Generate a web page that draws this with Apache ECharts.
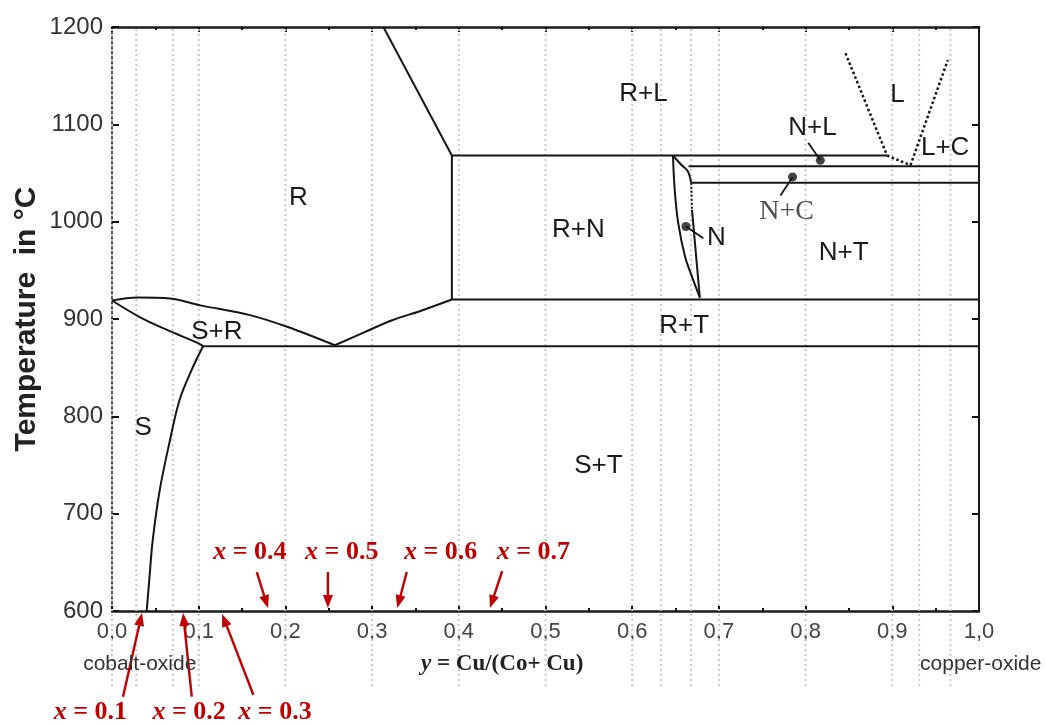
<!DOCTYPE html>
<html><head><meta charset="utf-8">
<script src="https://cdn.jsdelivr.net/npm/echarts@6/dist/echarts.min.js"></script>
<style>html,body{margin:0;padding:0;background:#fff}#c{width:1045px;height:724px}</style>
</head><body><div id="c"></div>
<script>
// ---- data ----
const xTickLabels = ['0,0','0,1','0,2','0,3','0,4','0,5','0,6','0,7','0,8','0,9','1,0'];
const yTickLabels = ['600','700','800','900','1000','1100','1200'];
const gridLinesX = [0, 0.028, 0.07, 0.1, 0.2, 0.3, 0.4, 0.5, 0.6, 0.633, 0.668, 0.7, 0.8, 0.9, 0.931, 0.967];

const topLeftBoundary = [[0.313,1200],[0.392,1068]];
const rVertical = [[0.392,1068],[0.392,920]];
const iso1068 = [[0.392,1068],[0.894,1068]];
const iso1057 = [[0.665,1057],[1.0,1057]];
const iso1040 = [[0.669,1040],[1.0,1040]];
const iso920 = [[0.392,920],[1.0,920]];
const iso872 = [[0.105,872],[1.0,872]];
const srUpper = [[0,919],[0.029,922],[0.067,921],[0.102,914],[0.159,904],[0.202,892],[0.257,873]];
const srRight = [[0.257,873],[0.290,886],[0.324,899],[0.355,908],[0.392,920]];
const srLower = [[0,919],[0.032,902],[0.063,889],[0.102,874],[0.105,872]];
const sSolvus = [[0.105,872],[0.092,848],[0.078,817],[0.067,776],[0.055,724],[0.047,673],[0.043,632],[0.040,600]];
const nLeft = [[0.647,1068],[0.649,1033],[0.653,999],[0.661,964],[0.670,941],[0.678,922]];
const nRightTop = [[0.647,1068],[0.656,1059],[0.664,1052],[0.668,1040]];
const nRightDotted = [[0.668,1040],[0.669,1012]];
const nRightLow = [[0.669,1012],[0.678,922]];
const lLeft = [[0.846,1173],[0.894,1068]];
const lBottom = [[0.894,1068],[0.921,1058]];
const lRight = [[0.921,1058],[0.964,1166]];

const dots = [[0.817,1063],[0.785,1046],[0.662,995]];
const leaderNL = [[0.803,1081],[0.817,1063]];
const leaderNC = [[0.785,1046],[0.771,1027]];
const leaderN = [[0.662,995],[0.682,983]];

const regionNames = ['R','R+L','L','N+L','L+C','R+N','N','N+T','S+R','R+T','S','S+T'];
const regionPos = [[0.215,1025],[0.613,1131],[0.906,1130],[0.808,1096],[0.961,1076],[0.538,992],[0.697,983],[0.844,968],[0.121,887],[0.660,893],[0.036,788],[0.561,749]];
const ncName = 'N+C';
const ncPos = [0.778,1010];

const annValues = ['0.4','0.5','0.6','0.7','0.1','0.2','0.3'];
const annPos = [[0.159,660],[0.265,660],[0.379,660],[0.486,660],[-0.025,496],[0.089,496],[0.188,496]];
const arrowTail = [[0.167,640],[0.249,640],[0.340,640],[0.450,641],[0.0127,512],[0.092,512],[0.163,514]];
const arrowTip = [[0.180,603],[0.249,603],[0.329,603],[0.436,603],[0.0346,598],[0.082,598],[0.127,597]];

const axisNotes = ['cobalt-oxide','copper-oxide'];
const axisNotePos = [[0.032,545.5],[1.002,545.5]];
const xName = 'y = Cu/(Co+ Cu)';
const xNamePos = [0.450,545.5];
const yName = 'Temperature  in °C';

// ---- chart ----
const RED = '#c00000';
const INK = '#151515';
const chart = echarts.init(document.getElementById('c'));

function phase(data, opts) {
  opts = opts || {};
  return {
    type: 'line', data: data, showSymbol: false, symbol: 'none', silent: true,
    smooth: opts.smooth || false, z: 5, animation: false,
    lineStyle: { color: INK, width: opts.width || 2, type: opts.type || 'solid' }
  };
}

const series = [
  {
    type: 'custom', z: 1, clip: false, silent: true, animation: false,
    data: gridLinesX.map(x => [x]),
    encode: { x: 0 },
    renderItem: function (p, api) {
      const x = api.value(0);
      const top = api.coord([x, 1200]);
      const bot = api.coord([x, 600]);
      return { type: 'line', shape: { x1: top[0], y1: top[1] + 2, x2: top[0], y2: bot[1] + 75 },
        style: { stroke: '#c9c9c9', lineWidth: 2, lineDash: [2, 3] } };
    }
  },
  phase(topLeftBoundary), phase(rVertical), phase(iso1068), phase(iso1057), phase(iso1040),
  phase(iso920), phase(iso872),
  phase(srUpper, { smooth: 0.35 }), phase(srRight, { smooth: 0.35 }), phase(srLower, { smooth: 0.35 }),
  phase(sSolvus, { smooth: 0.35 }), phase(nLeft, { smooth: 0.35 }), phase(nRightTop, { smooth: 0.35 }),
  phase(nRightDotted, { type: [2, 2] }), phase(nRightLow),
  phase(lLeft, { type: [2.5, 2.5], width: 2.5 }), phase(lBottom, { type: [2.5, 2.5], width: 2.5 }),
  phase(lRight, { type: [2.5, 2.5], width: 2.5 }),
  phase(leaderNL, { width: 1.8 }), phase(leaderNC, { width: 1.8 }), phase(leaderN, { width: 1.8 }),
  { type: 'scatter', data: dots, symbolSize: 9, itemStyle: { color: INK }, z: 6, silent: true, animation: false },
  {
    type: 'custom', z: 7, clip: false, silent: true, animation: false,
    data: regionPos.map((p, i) => [p[0], p[1], i]),
    encode: { x: 0, y: 1 },
    renderItem: function (p, api) {
      const c = api.coord([api.value(0), api.value(1)]);
      return { type: 'text', x: c[0], y: c[1],
        style: { text: regionNames[api.value(2)], fill: '#1a1a1a', font: '26px "Liberation Sans", Arial, sans-serif',
          align: 'center', verticalAlign: 'middle' } };
    }
  },
  {
    type: 'custom', z: 7, clip: false, silent: true, animation: false,
    data: [[ncPos[0], ncPos[1]]],
    encode: { x: 0, y: 1 },
    renderItem: function (p, api) {
      const c = api.coord([api.value(0), api.value(1)]);
      return { type: 'text', x: c[0], y: c[1],
        style: { text: ncName, fill: '#505050', font: '28px "Liberation Serif", "Times New Roman", serif',
          align: 'center', verticalAlign: 'middle' } };
    }
  },
  {
    type: 'custom', z: 8, clip: false, silent: true, animation: false,
    data: arrowTail.map((t, i) => [t[0], t[1], arrowTip[i][0], arrowTip[i][1]]),
    encode: { x: [0, 2], y: [1, 3] },
    renderItem: function (p, api) {
      const a = api.coord([api.value(0), api.value(1)]);
      const b = api.coord([api.value(2), api.value(3)]);
      const dx = b[0] - a[0], dy = b[1] - a[1], L = Math.hypot(dx, dy), ux = dx / L, uy = dy / L;
      const head = 13, hw = 5;
      const base = [b[0] - ux * head, b[1] - uy * head];
      return { type: 'group', children: [
        { type: 'line', shape: { x1: a[0], y1: a[1], x2: base[0] + ux * 2, y2: base[1] + uy * 2 },
          style: { stroke: RED, lineWidth: 2.4 } },
        { type: 'polygon', shape: { points: [b, [base[0] - uy * hw, base[1] + ux * hw], [base[0] + uy * hw, base[1] - ux * hw]] },
          style: { fill: RED } }
      ] };
    }
  },
  {
    type: 'custom', z: 8, clip: false, silent: true, animation: false,
    data: annPos.map((p, i) => [p[0], p[1], i]),
    encode: { x: 0, y: 1 },
    renderItem: function (p, api) {
      const c = api.coord([api.value(0), api.value(1)]);
      return { type: 'text', x: c[0], y: c[1],
        style: { text: '{i|x}{b| = ' + annValues[api.value(2)] + '}', align: 'center', verticalAlign: 'middle',
          rich: {
            i: { fill: RED, font: 'italic bold 26px "Liberation Serif", serif' },
            b: { fill: RED, font: 'bold 26px "Liberation Serif", serif' }
          } } };
    }
  },
  {
    type: 'custom', z: 8, clip: false, silent: true, animation: false,
    data: axisNotePos.map((p, i) => [p[0], p[1], i]),
    encode: { x: 0, y: 1 },
    renderItem: function (p, api) {
      const c = api.coord([api.value(0), api.value(1)]);
      return { type: 'text', x: c[0], y: c[1],
        style: { text: axisNotes[api.value(2)], fill: '#333', font: '21px "Liberation Sans", Arial, sans-serif',
          align: 'center', verticalAlign: 'middle' } };
    }
  },
  {
    type: 'custom', z: 8, clip: false, silent: true, animation: false,
    data: [[xNamePos[0], xNamePos[1]]],
    encode: { x: 0, y: 1 },
    renderItem: function (p, api) {
      const c = api.coord([api.value(0), api.value(1)]);
      const parts = xName.split(' ');
      return { type: 'text', x: c[0], y: c[1],
        style: { text: '{i|' + parts[0] + '}{b| ' + parts.slice(1).join(' ') + '}', align: 'center', verticalAlign: 'middle',
          rich: {
            i: { fill: '#222', font: 'italic bold 23px "Liberation Serif", serif' },
            b: { fill: '#222', font: 'bold 23px "Liberation Serif", serif' }
          } } };
    }
  }
];

const xBase = {
  type: 'value', min: 0, max: 1, interval: 0.1,
  splitLine: { show: false },
  axisTick: { show: true, inside: true, length: 5, lineStyle: { color: '#111', width: 2 } },
  minorTick: { show: true, splitNumber: 2, length: 3, lineStyle: { color: '#111', width: 2 } },
  minorSplitLine: { show: false }
};

chart.setOption({
  animation: false,
  backgroundColor: '#fff',
  textStyle: { fontFamily: '"Liberation Sans", Arial, sans-serif' },
  grid: { left: 112, right: 66, top: 27, bottom: 113, containLabel: false, outerBoundsMode: 'none' },
  xAxis: [
    Object.assign({}, xBase, {
      position: 'bottom',
      axisLine: { show: true, onZero: false, lineStyle: { color: '#1a1a1a', width: 2.5 } },
      axisLabel: { show: true, margin: 10, fontSize: 22, color: '#444', hideOverlap: false, showMinLabel: true, showMaxLabel: true,
        formatter: v => xTickLabels[Math.round(v * 10)] }
    }),
    Object.assign({}, xBase, {
      position: 'top',
      axisLine: { show: true, onZero: false, lineStyle: { color: '#1a1a1a', width: 2.5 } },
      axisLabel: { show: false }
    })
  ],
  yAxis: [
    {
      type: 'value', min: 600, max: 1200, interval: 100, position: 'left',
      name: yName, nameLocation: 'middle', nameRotate: 90, nameGap: 70, nameMoveOverlap: false,
      nameTextStyle: { fontSize: 30, fontWeight: 'bold', color: '#222', fontFamily: '"Liberation Sans", Arial, sans-serif' },
      splitLine: { show: false },
      axisLine: { show: true, onZero: false, lineStyle: { color: '#333', width: 2, type: [3, 2] } },
      axisTick: { show: true, inside: true, length: 7, lineStyle: { color: '#111', width: 2 } },
      axisLabel: { margin: 9, fontSize: 24, color: '#333', showMinLabel: true, showMaxLabel: true, hideOverlap: false,
        formatter: v => yTickLabels[Math.round((v - 600) / 100)] }
    },
    {
      type: 'value', min: 600, max: 1200, interval: 100, position: 'right',
      splitLine: { show: false },
      axisLine: { show: true, onZero: false, lineStyle: { color: '#1a1a1a', width: 2 } },
      axisTick: { show: true, inside: true, length: 7, lineStyle: { color: '#111', width: 2 } },
      axisLabel: { show: false }
    }
  ],
  series: series
});
</script>
</body></html>
